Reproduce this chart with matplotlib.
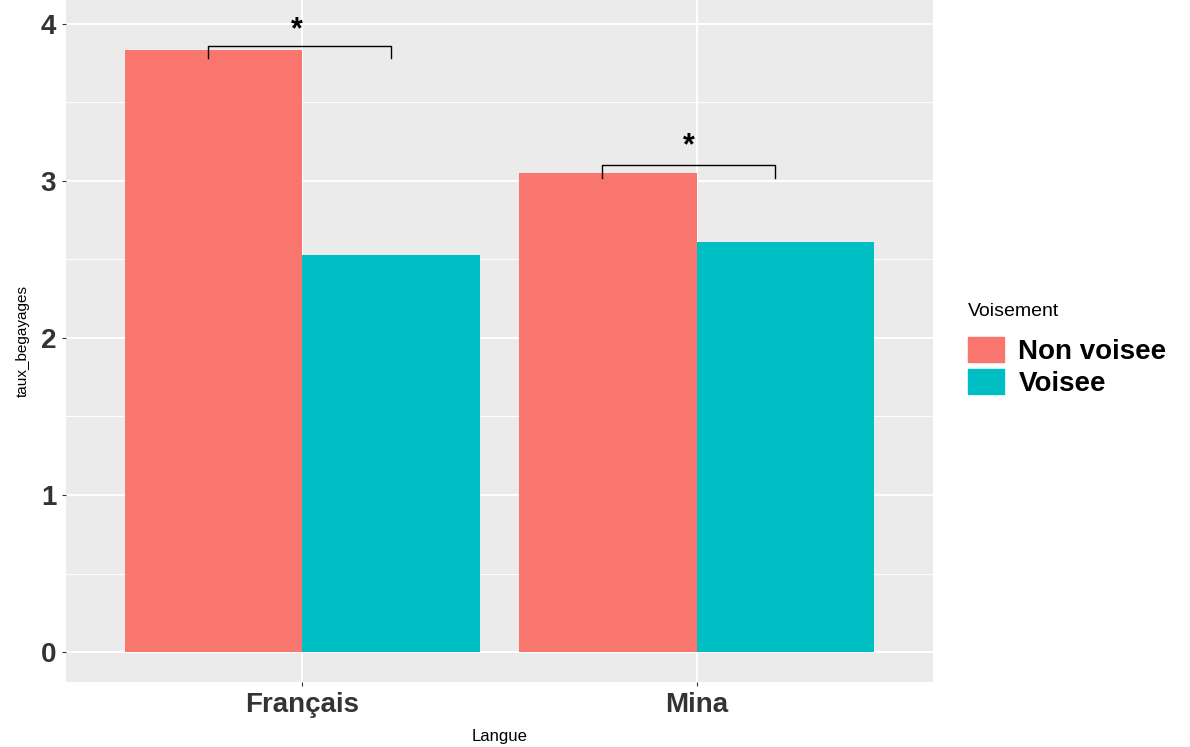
import numpy as np
import matplotlib.pyplot as plt
from matplotlib.patches import Patch

plt.rcParams['font.family'] = ['Liberation Sans', 'DejaVu Sans']

# données
langues = ['Français', 'Mina']
groupes = ['Non voisee', 'Voisee']
taux_non_voisee = [3.83, 3.05]
taux_voisee = [2.53, 2.61]
couleurs = ['#F8766D', '#00BFC4']

# crochets de significativité: (x gauche, x droite, y haut, y bas, x étoile, y étoile)
crochets = [(0.76, 1.225, 3.86, 3.78, 0.985, 3.865),
            (1.76, 2.20, 3.10, 3.02, 1.98, 3.125)]

fig = plt.figure(figsize=(11.9, 7.47), dpi=100)
ax = fig.add_axes([0.0555, 0.087, 0.7285, 0.913])
ax.set_facecolor('#EBEBEB')

x = np.arange(1, len(langues) + 1)
w = 0.45
ax.bar(x - w / 2, taux_non_voisee, width=w, color=couleurs[0], zorder=2)
ax.bar(x + w / 2, taux_voisee, width=w, color=couleurs[1], zorder=2)

for xl, xr, yh, yb, xs, ys in crochets:
    ax.plot([xl, xl, xr, xr], [yb, yh, yh, yb], color='black', lw=1, zorder=3)
    ax.text(xs, ys, '*', ha='center', va='bottom', fontsize=22,
            fontweight='bold', zorder=3)

ax.set_xlim(0.4, 2.6)
ax.set_ylim(-0.19, 4.15)
ax.set_xticks(x)
ax.set_xticklabels(langues)
ax.set_yticks([0, 1, 2, 3, 4])
ax.set_yticks([0.5, 1.5, 2.5, 3.5], minor=True)
ax.grid(which='major', color='white', lw=1.4, zorder=1)
ax.grid(which='minor', axis='y', color='white', lw=0.7, zorder=1)
ax.set_axisbelow(True)
for s in ax.spines.values():
    s.set_visible(False)
ax.tick_params(axis='both', which='major', length=3, color='#333333',
               labelsize=20, labelcolor='#333333', pad=4)
ax.tick_params(which='minor', length=0)
for lab in ax.get_xticklabels() + ax.get_yticklabels():
    lab.set_fontweight('bold')

ax.set_xlabel('Langue', fontsize=12, labelpad=8)
ax.set_ylabel('taux_begayages', fontsize=11, labelpad=8)

handles = [Patch(color=c) for c in couleurs]
leg = ax.legend(handles, groupes, title='Voisement', loc='center left',
                bbox_to_anchor=(1.028, 0.487), frameon=False,
                prop={'size': 20, 'weight': 'bold'}, title_fontsize=14,
                handlelength=1.3, handleheight=1.0, handletextpad=0.5,
                labelspacing=0.15, borderaxespad=0)
leg._legend_box.align = 'left'
leg._legend_box.sep = 12

fig.savefig('out.png', dpi=100)
